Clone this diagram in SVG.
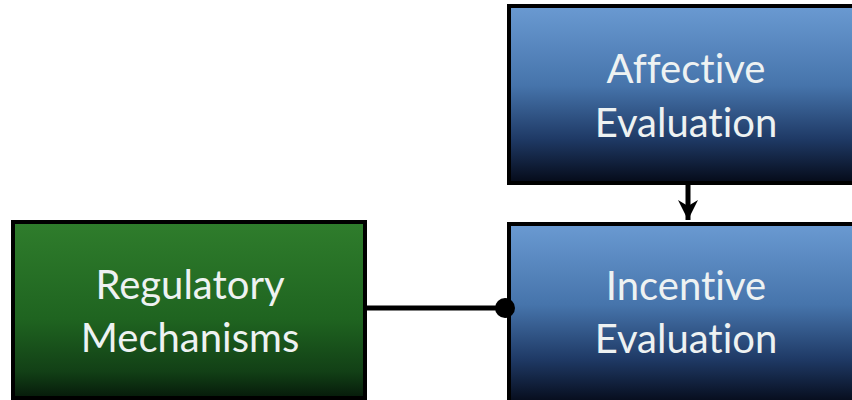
<svg xmlns="http://www.w3.org/2000/svg" width="852" height="400" viewBox="0 0 852 400">
<defs>
<linearGradient id="blue" x1="0" y1="0" x2="0" y2="1">
<stop offset="0" stop-color="#6a9ad2"/>
<stop offset="0.45" stop-color="#4674ab"/>
<stop offset="0.75" stop-color="#1f3a66"/>
<stop offset="1" stop-color="#050a18"/>
</linearGradient>
<linearGradient id="green" x1="0" y1="0" x2="0" y2="1">
<stop offset="0" stop-color="#2f7d2c"/>
<stop offset="0.55" stop-color="#1f6420"/>
<stop offset="0.85" stop-color="#124016"/>
<stop offset="1" stop-color="#061a0a"/>
</linearGradient>
<marker id="arrow" viewBox="0 0 10 10" refX="10" refY="5" markerWidth="4" markerHeight="4" orient="auto" markerUnits="strokeWidth">
<path d="M0,0 L10,5 L0,10 L3,5 Z" fill="#000"/>
</marker>
</defs>
<style>
.box{stroke:#000;stroke-width:4}
.lbl{font-family:"Lato","Open Sans","Liberation Sans",sans-serif;font-size:40px;fill:#eef2f2;text-anchor:middle;font-variant-ligatures:none;font-feature-settings:"liga" 0,"clig" 0}
.conn{stroke:#000;stroke-width:5;fill:none}
</style>
<rect width="852" height="400" fill="#fff"/>
<g id="affective">
<rect class="box" x="509" y="6" width="347" height="177" fill="url(#blue)"/>
<text class="lbl" x="686" y="83">Affective</text>
<text class="lbl" x="686" y="137">Evaluation</text>
</g>
<g id="incentive">
<rect class="box" x="509" y="224" width="347" height="180" fill="url(#blue)"/>
<text class="lbl" x="686" y="300">Incentive</text>
<text class="lbl" x="686" y="353">Evaluation</text>
</g>
<g id="regulatory">
<rect class="box" x="13" y="222" width="352" height="176" fill="url(#green)"/>
<text class="lbl" x="190" y="299">Regulatory</text>
<text class="lbl" x="190" y="352">Mechanisms</text>
</g>
<g id="connectors">
<path class="conn" d="M688,183 L688,220" marker-end="url(#arrow)"/>
<path class="conn" d="M365,308 L505,308"/>
<circle cx="505" cy="308" r="10" fill="#000"/>
</g>
</svg>
